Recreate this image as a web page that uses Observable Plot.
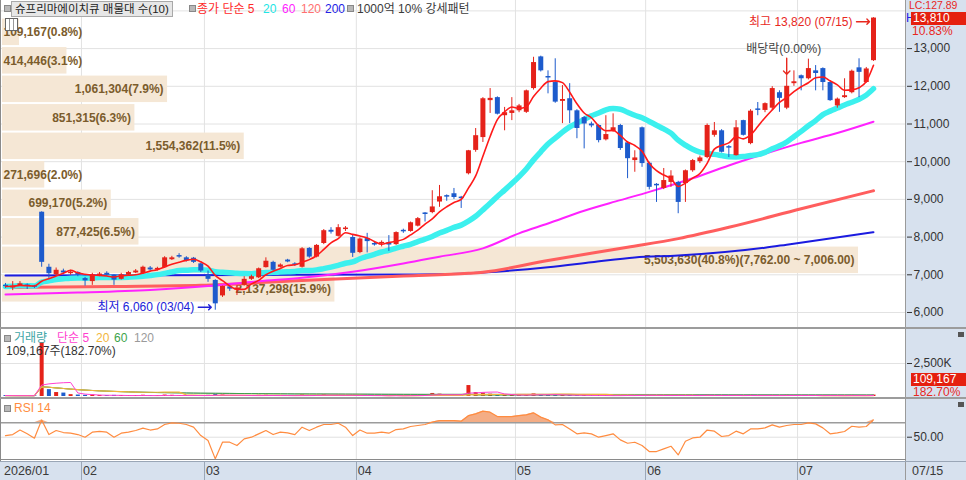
<!DOCTYPE html>
<html><head><meta charset="utf-8">
<script src="https://cdn.jsdelivr.net/npm/d3@7"></script>
<script src="https://cdn.jsdelivr.net/npm/@observablehq/plot@0.6"></script>
<style>
body{margin:0;background:#fff;}
#wrap{position:relative;width:966px;height:480px;overflow:hidden;background:#fff;font-family:"Liberation Sans","Noto Sans CJK KR",sans-serif;}
.abs{position:absolute;white-space:nowrap;}
.bul{position:absolute;width:5px;height:5px;background:#b8b8b8;border:1px solid #888;}
</style></head><body><div id="wrap"></div>
<script>
// ---------------- DATA ----------------
const stockTitle = "슈프리마에이치큐 매물대 수(10)";
const monthLabels = ["2026/01","02","03","04","05","06","07"];
const monthStartIdx = [0, 11, 28, 49, 71, 89, 110];
const lastDateLabel = "07/15";
const highDateLabel = "07/15";
const lowDateLabel = "03/04";
const exDivIndex = 108;
const exDivLabel = "배당락(0.00%)";

const opens = [6720,6650,6700,6730,6700,8660,7200,7000,7100,7030,7060,
 6900,6820,6980,7040,6990,6880,6990,7050,7030,7180,7130,7190,7400,7510,7450,7440,7290,
 6990,6850,6440,6680,6600,6720,6880,6920,7190,7330,7200,7390,7290,7200,7700,7470,7830,8180,8020,8200,7990,
 7590,7960,7830,7820,7850,7800,8180,8150,8290,8640,8650,8930,9100,9150,9060,9680,10300,10640,11620,11700,11220,11280,
 11350,11310,11940,12780,12260,12100,11600,11670,11350,11170,11000,10960,10580,10800,10960,10500,10030,10900,
 9960,9400,9290,9450,9450,9420,9760,10000,10110,10700,10820,10400,10160,11090,10480,11400,11360,11420,11830,11420,12070,
 12280,12200,12410,12470,12100,11480,11700,11830,12490,12100,12680];
const highs = [6770,6820,6820,6760,6720,8670,7280,7180,7150,7120,7080,
 6930,7040,7060,7080,7000,7040,7090,7140,7230,7220,7200,7480,7490,7560,7480,7460,7310,
 7100,6870,6700,6720,6700,6950,6990,7180,7450,7360,7290,7410,7320,7720,7720,7800,8200,8250,8330,8280,8050,
 7980,8100,7880,7900,8040,8140,8210,8400,8520,8650,9230,9370,9120,9290,9080,10300,10880,11700,11940,11720,11440,11700,
 11520,11900,12770,12800,12410,12730,12020,12070,11380,11200,11050,10980,11220,11270,10990,10520,10290,10920,
 9990,9420,9820,9760,9480,9780,10060,10150,11000,11040,10850,10430,11090,11100,11380,11570,11560,11990,11880,12320,12410,
 12300,12720,12550,12490,12120,11690,12200,12430,12730,12500,13820];
const lows = [6640,6580,6690,6610,6640,7200,6900,6980,7000,6990,6950,
 6700,6720,6950,6960,6720,6860,6970,7030,7010,7100,7100,7170,7380,7440,7340,7300,7060,
 6800,6060,6400,6560,6450,6700,6850,6900,7180,7100,7180,7320,7220,7180,7440,7450,7800,8080,8000,8150,7460,
 7560,7580,7760,7740,7620,7780,8100,8130,8270,8400,8620,8790,8950,9000,8760,9650,10250,10510,11280,11240,10820,11090,
 11300,11280,11900,12380,11800,11550,11010,11010,10610,10340,10900,10500,10550,10780,10300,9550,9720,9850,
 9250,8920,9260,9320,8620,8920,9720,9950,10080,10650,10230,10110,10150,10680,10450,11220,11300,11380,11310,11380,12000,
 11880,12170,11880,11880,11600,11420,11680,11800,11700,12080,12660];
const closes = [6690,6700,6760,6690,6670,7330,7030,7120,7050,7070,6990,
 6840,7000,7020,6990,6860,7000,7060,7100,7200,7130,7170,7450,7450,7470,7370,7330,7100,
 6880,6230,6690,6620,6650,6880,6950,7160,7360,7120,7260,7340,7250,7690,7470,7780,8170,8130,8250,8240,7570,
 7950,7880,7790,7860,7790,8120,8140,8380,8490,8600,8800,9070,9060,9050,9020,10290,10690,11670,11680,11260,11300,11350,
 11480,11880,12630,12410,12220,11580,11650,11350,10880,11000,10950,10560,10720,10900,10350,10080,10100,9950,
 9320,9360,9500,9620,8920,9760,10030,10100,10960,10820,10250,10360,10900,10700,11340,11360,11540,11940,11680,12000,12120,
 12200,12470,12340,12100,11620,11660,11750,12400,12370,12460,13810];
const volumes = [70000,60000,55000,65000,50000,4090000,520000,300000,260000,140000,110000,
 90000,120000,80000,70000,85000,75000,60000,70000,95000,60000,55000,110000,90000,70000,65000,60000,80000,
 90000,150000,110000,70000,60000,65000,55000,90000,95000,70000,50000,45000,50000,120000,80000,85000,130000,70000,90000,60000,100000,
 75000,70000,45000,40000,55000,80000,50000,85000,90000,70000,230000,180000,90000,80000,85000,830000,300000,260000,180000,120000,100000,80000,
 70000,150000,200000,130000,90000,120000,90000,80000,90000,85000,50000,80000,60000,55000,90000,85000,70000,100000,
 90000,70000,60000,50000,110000,80000,70000,50000,120000,70000,80000,50000,90000,60000,100000,55000,50000,90000,60000,110000,70000,
 60000,80000,60000,70000,80000,50000,45000,90000,70000,59750,109167];
const rsi14 = [52.3,53.7,60,54.7,48.6,74,53.7,59.3,56.5,55.6,
 53.7,50,57,58,57,50,55.6,57,59.3,62.6,
 60,61.6,67.7,70,69.5,67.7,64,52.3,45.3,19.8,
 43,43,38.4,47.7,50,54.7,59.3,53.7,57,56,
 53.7,64,59.3,64,67.7,67.7,69.5,64,52.3,60,
 55.6,55.6,57,55.6,60.7,61.6,64.9,66.3,67.7,71,
 73.3,73.3,73.3,72.3,80,82.6,86.3,84.9,78.8,78.8,
 78.8,80.2,81.2,84,78,74.2,67.2,67.7,61.6,54.7,
 56,54.7,50,52.3,54.7,46.3,41.6,43,38.4,30,
 30,33.7,37.4,25.3,44.4,49,50,60,58.4,51,
 52.3,58.4,54.7,61.6,61.6,63,67.2,64,66.3,67.7,
 67.7,70,68.6,63,54.7,56,58,65.3,64,64.9,74.2];

// long moving averages (index, value)
const ma60Idx = [0,10,20,28,35,41,48,55,60,66,71,75,80,85,89,95,100,104,110,115,120];
const ma60Val = [6480,6530,6600,6700,6830,6920,7080,7300,7480,7700,8100,8360,8700,8980,9200,9560,9900,10150,10500,10760,11060];
const ma120Idx = [0,15,27,41,55,64,66,75,86,93,100,110,120];
const ma120Val = [6660,6690,6720,6850,6970,7040,7070,7380,7730,7960,8260,8750,9230];
const ma200Idx = [0,20,40,55,63,66,75,81,87,93,105,108,120];
const ma200Val = [6980,6990,7000,7010,7030,7060,7200,7330,7460,7510,7720,7800,8130];

// volume profile (매물대), bottom band first
const bandEdges = [6250,7006,7762,8518,9274,10030,10786,11542,12298,13054,13810];
const profileVol = [2137298,5503630,877425,699170,271696,1554362,851315,1061304,414446,109167];
const profilePct = [15.9,40.8,6.5,5.2,2.0,11.5,6.3,7.9,3.1,0.8];

const priceTicks = [6000,7000,8000,9000,10000,11000,12000,13000];
const priceGrid = [6000,7000,8000,9000,10000,11000,12000,13000,14000];
const volTicks = [2500000];
const rsiTicks = [50];
const rsiLevels = [50, 70];
const lastChangeLabel = "10.83%";
const volRatioLabel = "182.70%";
const lcLabel = "LC:127.89";

// ---------------- SETUP ----------------
const UP = "#e5221a", DOWN = "#1d5bcc";
const FONT = '"Liberation Sans","Noto Sans CJK KR",sans-serif';
const wrap = document.getElementById("wrap");
const idxDomain = [-0.6912, 124.562];
const fmt = d3.format(",");

const rows = closes.map((c, i) => ({
  i, open: opens[i], high: highs[i], low: lows[i], close: c,
  vol: volumes[i], rsi: rsi14[i], up: c >= opens[i],
  volUp: i === 0 ? c >= opens[i] : c >= closes[i - 1]
}));
const monthBounds = monthStartIdx.slice(1).map(m => m - 0.5);
const toPts = (ix, vals) => ix.map((i, k) => ({i, v: vals[k]}));

function box(css) { const d = document.createElement("div"); d.className = "abs"; Object.assign(d.style, css); wrap.appendChild(d); return d; }
function txt(s, left, top, css = {}) { const d = box(Object.assign({left: left + "px", top: top + "px", fontSize: "12px", color: "#333", lineHeight: "14px"}, css)); d.textContent = s; return d; }
function put(svg, top) { svg.style.position = "absolute"; svg.style.left = "0px"; svg.style.top = top + "px"; wrap.appendChild(svg); return svg; }

const baseStyle = {fontFamily: FONT, fontSize: "12px", color: "#333", background: "transparent", overflow: "visible"};
function panel(h, yOpts, marks, xOpts) {
  return Plot.plot({
    width: 966, height: h, marginTop: 0, marginBottom: 0, marginLeft: 0, marginRight: 60,
    x: Object.assign({domain: idxDomain, axis: null}, xOpts || {}),
    y: Object.assign({axis: null, label: null}, yOpts),
    style: baseStyle, marks
  });
}

// backgrounds
box({left: "906px", top: "0px", width: "60px", height: "480px", background: "#d7e1ee"});
box({left: "0px", top: "461px", width: "966px", height: "19px", background: "#d7e1ee"});

// ---------------- PRICE PANEL ----------------
const priceDomain = [5602, 14276];
const gridP = put(panel(327, {domain: priceDomain, axis: "right", ticks: priceTicks, tickFormat: fmt, tickSize: 5, tickPadding: 2}, [
  Plot.ruleY(priceGrid, {stroke: "#e2e2e2"}),
  Plot.ruleX(monthBounds, {stroke: "#e2e2e2"})
]), 0);

// volume profile layer
const vmax = d3.max(profileVol);
const bands = profileVol.map((v, k) => {
  const big = v === vmax;
  let label = fmt(v) + "(" + profilePct[k].toFixed(1) + "%)";
  if (big) label += "(" + d3.format(",.2f")(bandEdges[k + 1]) + " ~ " + d3.format(",.2f")(bandEdges[k]) + ")";
  return {lo: bandEdges[k], hi: bandEdges[k + 1], mid: (bandEdges[k] + bandEdges[k + 1]) / 2, vol: v, label};
});
const fits = b => (b.vol / vmax) * 856 > b.label.length * 6.6 + 6;
put(panel(327, {domain: priceDomain}, [
  Plot.rect(bands, {x1: 0, x2: "vol", y1: "lo", y2: "hi", fill: "#f5e7d5", insetTop: 1, insetBottom: 1}),
  Plot.text(bands.filter(fits), {x: "vol", y: "mid", text: "label", textAnchor: "end", dx: -4, fill: "#7b5c2c", fontWeight: "bold", fontSize: 12}),
  Plot.text(bands.filter(b => !fits(b)), {x: 0, y: "mid", text: "label", textAnchor: "start", dx: 1, fill: "#7b5c2c", fontWeight: "bold", fontSize: 12})
], {domain: [-vmax * 2 / 856, vmax * 904 / 856]}), 0);

// candles, averages, annotations
const hiRow = rows.reduce((a, b) => b.high > a.high ? b : a);
const loRow = rows.reduce((a, b) => b.low < a.low ? b : a);
const exRow = rows[exDivIndex];
const pricePlot = put(panel(327, {domain: priceDomain}, [
  Plot.line(toPts(ma200Idx, ma200Val), {x: "i", y: "v", stroke: "#1b1be0", strokeWidth: 2, curve: "monotone-x"}),
  Plot.line(toPts(ma120Idx, ma120Val), {x: "i", y: "v", stroke: "#ff5e5e", strokeWidth: 3, curve: "monotone-x"}),
  Plot.line(toPts(ma60Idx, ma60Val), {x: "i", y: "v", stroke: "#ff22ff", strokeWidth: 2, curve: "monotone-x"}),
  Plot.lineY(rows, Plot.windowY({k: 20, anchor: "end", reduce: "mean", strict: false}, {x: "i", y: "close", stroke: "#3cf0ee", strokeWidth: 5.5, curve: "monotone-x"})),
  Plot.ruleX(rows, {x: "i", y1: "low", y2: "high", stroke: d => d.up ? UP : DOWN, strokeWidth: 1}),
  Plot.ruleX(rows, {x: "i", y1: "open", y2: "close", stroke: d => d.up ? UP : DOWN, strokeWidth: 5}),
  Plot.lineY(rows, Plot.windowY({k: 5, anchor: "end", reduce: "mean", strict: false}, {x: "i", y: "close", stroke: "#ff1a1a", strokeWidth: 1.6, curve: "monotone-x"})),
  Plot.text([hiRow], {x: "i", y: "high", text: d => "최고 " + fmt(d.high) + " (" + highDateLabel + ")", textAnchor: "end", dx: -21, dy: 4, fill: "#e8281e", fontSize: 12}),
  Plot.vector([hiRow], {x: "i", y: "high", length: 13, rotate: 90, anchor: "end", dx: -4, dy: 4, stroke: "#e8281e", strokeWidth: 1.4}),
  Plot.text([loRow], {x: "i", y: "low", text: d => "최저 " + fmt(d.low) + " (" + lowDateLabel + ")", textAnchor: "end", dx: -21, dy: -3, fill: "#2121d8", fontSize: 12}),
  Plot.vector([loRow], {x: "i", y: "low", length: 13, rotate: 90, anchor: "end", dx: -4, dy: -3, stroke: "#2121d8", strokeWidth: 1.4}),
  Plot.text([exRow], {x: "i", y: "high", text: () => exDivLabel, textAnchor: "middle", dx: -3, dy: -25, fill: "#444", fontSize: 12}),
  Plot.vector([exRow], {x: "i", y: "high", length: 16, rotate: 180, anchor: "end", stroke: "#e8281e", strokeWidth: 1.4})
]), 0);

// ---------------- VOLUME PANEL ----------------
const volDomain = [-75758, 5151515];
put(panel(69, {domain: volDomain, axis: "right", ticks: volTicks, tickFormat: v => fmt(v / 1000) + "K", tickSize: 5, tickPadding: 2}, [
  Plot.ruleY(volTicks, {stroke: "#e2e2e2"}),
  Plot.ruleX(monthBounds, {stroke: "#e2e2e2"}),
  Plot.ruleX(rows, {x: "i", y1: 0, y2: "vol", stroke: d => d.volUp ? UP : DOWN, strokeWidth: 4}),
  Plot.lineY(rows, Plot.windowY({k: 120, anchor: "end", reduce: "mean", strict: false}, {x: "i", y: "vol", stroke: "#9a9a9a", strokeWidth: 1})),
  Plot.lineY(rows, Plot.windowY({k: 60, anchor: "end", reduce: "mean", strict: false}, {x: "i", y: "vol", stroke: "#3da34a", strokeWidth: 1})),
  Plot.lineY(rows, Plot.windowY({k: 20, anchor: "end", reduce: "mean", strict: false}, {x: "i", y: "vol", stroke: "#f2b63c", strokeWidth: 1.2})),
  Plot.lineY(rows, Plot.windowY({k: 5, anchor: "end", reduce: "mean", strict: false}, {x: "i", y: "vol", stroke: "#ff3fd0", strokeWidth: 1}))
]), 328);

// ---------------- RSI PANEL ----------------
put(panel(62, {domain: [17.5, 104], axis: "right", ticks: rsiTicks, tickFormat: d3.format(".2f"), tickSize: 5, tickPadding: 2}, [
  Plot.ruleY([rsiLevels[0]], {stroke: "#e0e0e0"}),
  Plot.ruleX(monthBounds, {stroke: "#e2e2e2"}),
  Plot.areaY(rows, {x: "i", y1: rsiLevels[1], y2: d => Math.max(d.rsi, rsiLevels[1]), fill: "#f3a478", fillOpacity: 0.9}),
  Plot.ruleY([rsiLevels[1]], {stroke: "#9c9c9c", strokeWidth: 1.5}),
  Plot.lineY(rows, {x: "i", y: "rsi", stroke: "#ff8c40", strokeWidth: 1.2})
]), 398);

// ---------------- FRAMES / SEPARATORS ----------------
box({left: "0px", top: "0px", width: "1px", height: "461px", background: "#8a8a8a"});
box({left: "905px", top: "0px", width: "1px", height: "480px", background: "#9a9a9a"});
box({left: "0px", top: "327px", width: "966px", height: "2px", background: "#9c9c9c"});
box({left: "0px", top: "397px", width: "966px", height: "2px", background: "#9c9c9c"});
box({left: "0px", top: "459px", width: "906px", height: "1px", background: "#8a8a8a"});
box({left: "0px", top: "461px", width: "966px", height: "1px", background: "#9aa6b6"});

// bottom month labels via x scale
const xs = gridP.scale("x");
monthLabels.forEach((m, k) => {
  const px = k === 0 ? 2 : xs.apply(monthStartIdx[k] - 0.5);
  if (k > 0) box({left: px + "px", top: "461px", width: "1px", height: "19px", background: "#9aa6b6"});
  txt(m, px + 2, 464, {fontSize: "12.5px", color: "#3a3a3a"});
});
txt(lastDateLabel, 912, 464, {fontSize: "12.5px", color: "#3a3a3a"});

// ---------------- LEGENDS ----------------
box({left: "4px", top: "5px"}).className = "bul";
box({left: "11px", top: "1px", height: "14px", padding: "0 3px", background: "#e7e7e7", border: "1px solid #a9a9a9", fontSize: "11.5px", lineHeight: "14px", color: "#222"}).textContent = stockTitle;
box({left: "189px", top: "5px"}).className = "bul";
txt("종가 단순 5", 197, 2, {color: "#ff2a2a"});
txt("20", 263, 2, {color: "#22e5e5"});
txt("60", 282, 2, {color: "#ff22ff"});
txt("120", 301, 2, {color: "#ff7070"});
txt("200", 325, 2, {color: "#2222e6"});
box({left: "347px", top: "5px"}).className = "bul";
txt("1000억 10% 강세패턴", 357, 2, {color: "#3a3a3a"});
box({left: "5px", top: "18px", width: "11px", height: "11px", border: "1px solid #666", background: "repeating-linear-gradient(90deg,#fff 0 3px,#999 3px 4px)"});

box({left: "4px", top: "335px"}).className = "bul";
txt("거래량", 14, 331, {color: "#3ea6a6"});
txt("단순 5", 57, 331, {color: "#ff3fd0"});
txt("20", 96, 331, {color: "#f2b63c"});
txt("60", 114, 331, {color: "#3da34a"});
txt("120", 134, 331, {color: "#9a9a9a"});
txt(fmt(volumes[volumes.length - 1]) + "주(" + volRatioLabel + ")", 6, 344, {color: "#333"});

box({left: "4px", top: "405px"}).className = "bul";
txt("RSI 14", 14, 401, {color: "#ff8c40"});

// right side price labels
const ys = pricePlot.scale("y");
const lastClose = closes[closes.length - 1];
txt(lcLabel, 909, 0, {color: "#e8281e", fontSize: "10.5px", lineHeight: "11px"});
txt("H", 906, 11, {color: "#2222e6"});
const cy = ys.apply(lastClose);
box({left: "911px", top: (cy - 6) + "px", width: "55px", height: "13px", background: "#e5200f", color: "#fff", fontSize: "12px", lineHeight: "13px", paddingLeft: "2px"}).textContent = fmt(lastClose);
txt(lastChangeLabel, 912, cy + 6, {color: "#e8281e"});
box({left: "911px", top: "373px", width: "55px", height: "13px", background: "#e5200f", color: "#fff", fontSize: "12px", lineHeight: "13px", paddingLeft: "2px"}).textContent = fmt(volumes[volumes.length - 1]);
txt(volRatioLabel, 913, 385, {color: "#e8281e"});
box({left: "958px", top: "332px", width: "6px", height: "5px", background: "#555"});
box({left: "958px", top: "402px", width: "6px", height: "5px", background: "#555"});
</script>
</body></html>
